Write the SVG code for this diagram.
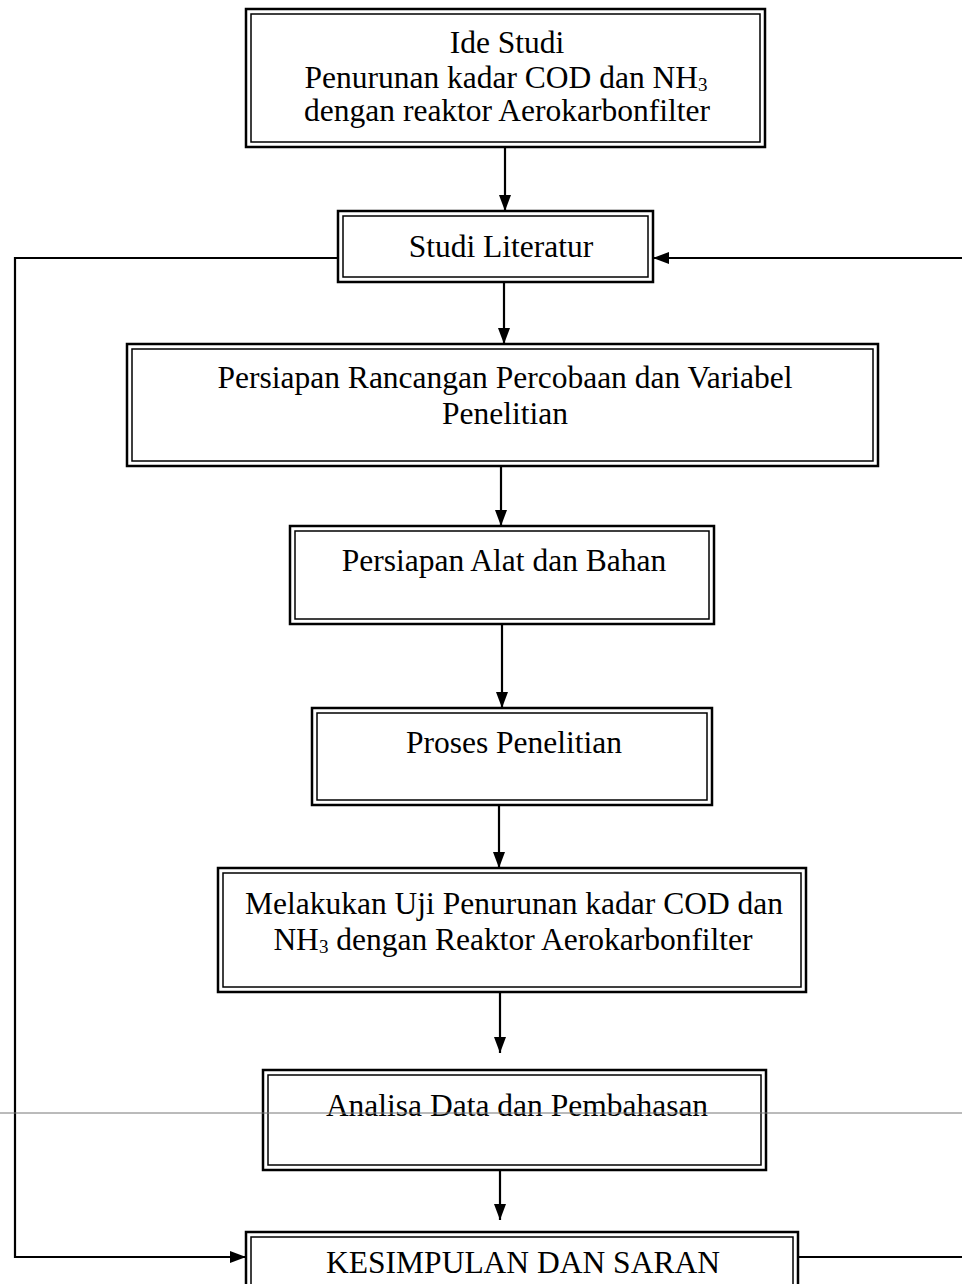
<svg xmlns="http://www.w3.org/2000/svg" width="962" height="1284" viewBox="0 0 962 1284">
<style>
.o{fill:#fff;stroke:#000;stroke-width:2.5}
.i{fill:none;stroke:#000;stroke-width:1.5}
.t{font-family:"Liberation Serif","Times New Roman",serif;font-size:31.5px;fill:#000;text-anchor:middle}
.c{fill:none;stroke:#000;stroke-width:2.2}
.s{font-size:19px}
</style>
<defs>
<marker id="a" viewBox="0 0 16 12" refX="16" refY="6" markerWidth="16" markerHeight="12" orient="auto" markerUnits="userSpaceOnUse"><path d="M0,0 L16,6 L0,12 z" fill="#000"/></marker>
</defs>
<rect width="962" height="1284" fill="#fff"/>
<g id="connectors">
<path class="c" d="M505,147 V211" marker-end="url(#a)"/>
<path class="c" d="M504,282 V344" marker-end="url(#a)"/>
<path class="c" d="M501,466 V526" marker-end="url(#a)"/>
<path class="c" d="M502,624 V708" marker-end="url(#a)"/>
<path class="c" d="M499,805 V868" marker-end="url(#a)"/>
<path class="c" d="M500,992 V1053" marker-end="url(#a)"/>
<path class="c" d="M500,1170 V1220" marker-end="url(#a)"/>
<path class="c" d="M338,258 H15 V1257 H246" marker-end="url(#a)"/>
<path class="c" d="M798,1257 H962"/>
<path class="c" d="M962,258 H653" marker-end="url(#a)"/>
</g>
<g id="n1">
<rect class="o" x="246" y="9" width="519" height="138"/>
<rect class="i" x="251" y="14" width="509" height="128"/>
<text class="t" x="507" y="53">Ide Studi</text>
<text class="t" x="506" y="88">Penurunan kadar COD dan NH<tspan class="s" dy="3">3</tspan></text>
<text class="t" x="507" y="121">dengan reaktor Aerokarbonfilter</text>
</g>
<g id="n2">
<rect class="o" x="338" y="211" width="315" height="71"/>
<rect class="i" x="343" y="216" width="305" height="61"/>
<text class="t" x="501" y="257">Studi Literatur</text>
</g>
<g id="n3">
<rect class="o" x="127" y="344" width="751" height="122"/>
<rect class="i" x="132" y="349" width="741" height="112"/>
<text class="t" x="505" y="388">Persiapan Rancangan Percobaan dan Variabel</text>
<text class="t" x="505" y="424">Penelitian</text>
</g>
<g id="n4">
<rect class="o" x="290" y="526" width="424" height="98"/>
<rect class="i" x="295" y="531" width="414" height="88"/>
<text class="t" x="504" y="571">Persiapan Alat dan Bahan</text>
</g>
<g id="n5">
<rect class="o" x="312" y="708" width="400" height="97"/>
<rect class="i" x="317" y="713" width="390" height="87"/>
<text class="t" x="514" y="753">Proses Penelitian</text>
</g>
<g id="n6">
<rect class="o" x="218" y="868" width="588" height="124"/>
<rect class="i" x="223" y="873" width="578" height="114"/>
<text class="t" x="514" y="914">Melakukan Uji Penurunan kadar COD dan</text>
<text class="t" x="513" y="950">NH<tspan class="s" dy="3">3</tspan><tspan dy="-3"> dengan Reaktor Aerokarbonfilter</tspan></text>
</g>
<g id="n7">
<rect class="o" x="263" y="1070" width="503" height="100"/>
<rect class="i" x="268" y="1075" width="493" height="90"/>
<text class="t" x="517" y="1116">Analisa Data dan Pembahasan</text>
</g>
<g id="n8">
<rect class="o" x="246" y="1232" width="552" height="70"/>
<rect class="i" x="251" y="1237" width="542" height="60"/>
<text class="t" x="523" y="1273">KESIMPULAN DAN SARAN</text>
</g>
<line x1="0" y1="1113" x2="962" y2="1113" stroke="#777" stroke-width="1"/>
</svg>
